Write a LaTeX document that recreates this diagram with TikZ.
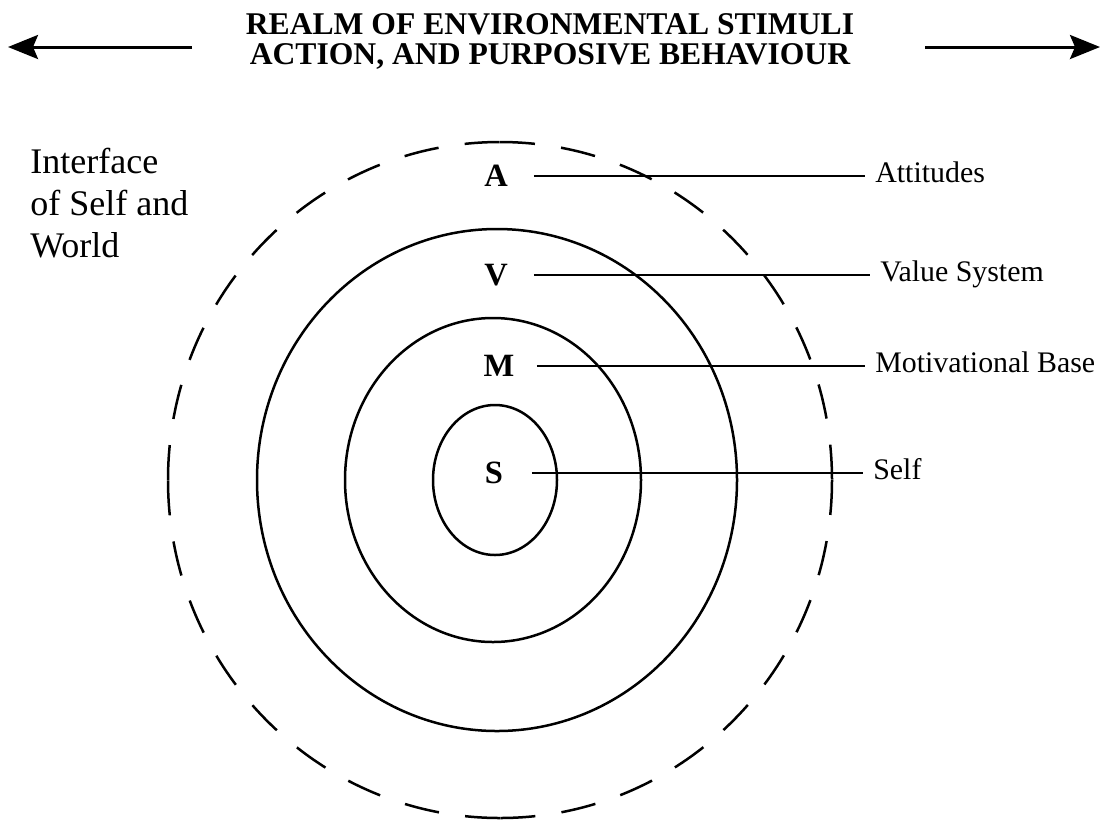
\documentclass[tikz,border=0pt]{standalone}
\usepackage{fontspec}
\setmainfont{Liberation Serif}
\usetikzlibrary{arrows.meta, positioning}

\begin{document}
\begin{tikzpicture}[
    x=0.02cm, y=-0.02cm,
    layerline/.style={draw, line width=0.05cm},
    boundary/.style={line width=0.05cm, dash pattern=on 0.7cm off 0.5275cm},
    layerletter/.style={minimum width=1.5cm, inner sep=0pt, font=\fontsize{18.5}{20}\selectfont\bfseries},
    layername/.style={anchor=west, inner xsep=0.2cm, inner ysep=0pt, text height=0.7em, text depth=0pt, font=\fontsize{17}{20}\selectfont},
    pointer/.style={line width=0.05cm},
    realm/.style={line width=0.06cm, -{Stealth[length=0.6cm, width=0.48cm, inset=0.1cm]}}
]
\useasboundingbox (0,0) rectangle (1105,819);

% Title and arrows
\node (realm) [anchor=north, align=center, inner sep=0pt, font=\fontsize{18}{17}\selectfont\bfseries] at (550,13) {REALM OF ENVIRONMENTAL STIMULI\\ACTION, AND PURPOSIVE BEHAVIOUR};
\coordinate (leftfoot) at (192,47);
\coordinate (lefttip) at (8,47);
\coordinate (rightfoot) at (925,47);
\coordinate (righttip) at (1100,47);
\draw [realm] (leftfoot) -- (lefttip);
\draw [realm] (rightfoot) -- (righttip);

\node (interface) [anchor=north west, align=left, inner sep=0pt, font=\fontsize{20.5}{23.9}\selectfont] at (30,148) {Interface\\of Self and\\World};

% Layers
\foreach \a in {0,90,180,270}
  \draw [boundary] (500,480) ++(\a:332 and 338) arc[start angle=\a, delta angle=90, x radius=332, y radius=338];
\draw [layerline] (497,480) ellipse[x radius=240, y radius=251];
\draw [layerline] (493,480) ellipse[x radius=148, y radius=162];
\draw [layerline] (495,480) ellipse[x radius=62, y radius=75];

% Letters
\node (A) [layerletter] at (496,176) {A};
\node (V) [layerletter] at (496,275) {V};
\node (M) [layerletter] at (499,366) {M};
\node (S) [layerletter] at (494,473) {S};

% Names
\node (attitudes) [layername] at (865,176) {Attitudes};
\node (values) [layername] at (870,275) {Value System};
\node (motive) [layername] at (865,366) {Motivational Base};
\node (self) [layername] at (863,473) {Self};

\draw [pointer] (A) -- (attitudes);
\draw [pointer] (V) -- (values);
\draw [pointer] (M) -- (motive);
\draw [pointer] (S) -- (self);

\end{tikzpicture}
\end{document}
